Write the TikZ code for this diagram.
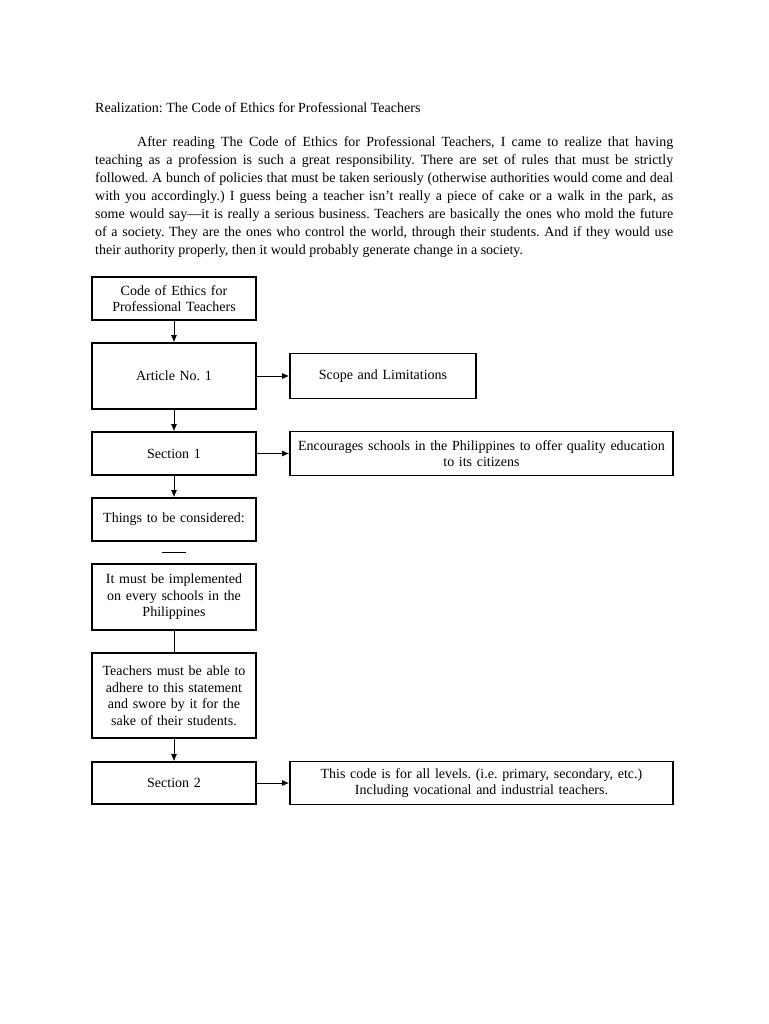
\documentclass[tikz,border=0pt]{standalone}
\usepackage{fontspec}
\setmainfont{Liberation Serif}
\usetikzlibrary{positioning, arrows.meta, calc}

\begin{document}
\begin{tikzpicture}[
    x=1pt, y=-1pt,
    node distance=21.4pt,
    every node/.style={font=\fontsize{14}{16.5}\selectfont\frenchspacing},
    box/.style={draw, line width=1.6pt, minimum width=164pt, text width=162pt, align=center, inner sep=0pt},
    wide/.style={box, minimum width=383pt, text width=380pt},
    link/.style={line width=0.9pt, -{Latex[length=7pt, width=6pt]}}]

  \useasboundingbox (0,0) rectangle (768,1024);

  % heading
  \node[anchor=west, inner sep=0pt] at (95,108) (title)
    {Realization: The Code of Ethics for Professional Teachers};

  % text
  \node[anchor=north west, inner sep=0pt, text width=578pt, align=justify,
        font=\fontsize{14}{18}\selectfont\frenchspacing] at (95,136) (essay) {%
    \hspace*{42pt}After reading The Code of Ethics for Professional Teachers, I came to realize that having\linebreak
    teaching as a profession is such a great responsibility. There are set of rules that must be strictly\linebreak
    followed. A bunch of policies that must be taken seriously (otherwise authorities would come and deal\linebreak
    with you accordingly.) I guess being a teacher isn’t really a piece of cake or a walk in the park, as\linebreak
    some would say—it is really a serious business. Teachers are basically the ones who mold the future\linebreak
    of a society. They are the ones who control the world, through their students. And if they would use\linebreak
    their authority properly, then it would probably generate change in a society.};

  % chart
  \node[box, minimum height=43pt] at (174,298.5) (code) {Code of Ethics for\\Professional Teachers};
  \node[box, minimum height=66pt, below=of code] (article) {Article No. 1};
  \node[box, minimum height=43pt, below=of article] (sec1) {Section 1};
  \node[box, minimum height=43pt, below=of sec1] (things) {Things to be considered:};
  \node[box, minimum height=66pt, below=of things] (implement) {It must be implemented\\on every schools in the\\Philippines};
  \node[box, minimum height=85pt, below=of implement] (adhere) {Teachers must be able to\\adhere to this statement\\and swore by it for the\\sake of their students.};
  \node[box, minimum height=42pt, below=22.4pt of adhere] (sec2) {Section 2};

  \node[box, minimum width=186pt, minimum height=45pt, right=32.4pt of article] (scope) {Scope and Limitations};
  \node[wide, minimum height=44pt, right=32.4pt of sec1] (encourage)
    {Encourages schools in the Philippines to offer quality education\\to its citizens};
  \node[wide, minimum height=43pt, right=32.4pt of sec2] (levels)
    {This code is for all levels. (i.e. primary, secondary, etc.)\\Including vocational and industrial teachers.};

  \coordinate (gap) at ($(things.south)!0.5!(implement.north)$);

  \draw[link] (code) -- (article);
  \draw[link] (article) -- (sec1);
  \draw[link] (sec1) -- (things);
  \draw[line width=1pt] ([xshift=-12pt]gap) -- ([xshift=12pt]gap);
  \draw[line width=0.9pt] (implement) -- (adhere);
  \draw[link] (adhere) -- (sec2);
  \draw[link] (article) -- (scope);
  \draw[link] (sec1) -- (encourage);
  \draw[link] (sec2) -- (levels);
\end{tikzpicture}
\end{document}
